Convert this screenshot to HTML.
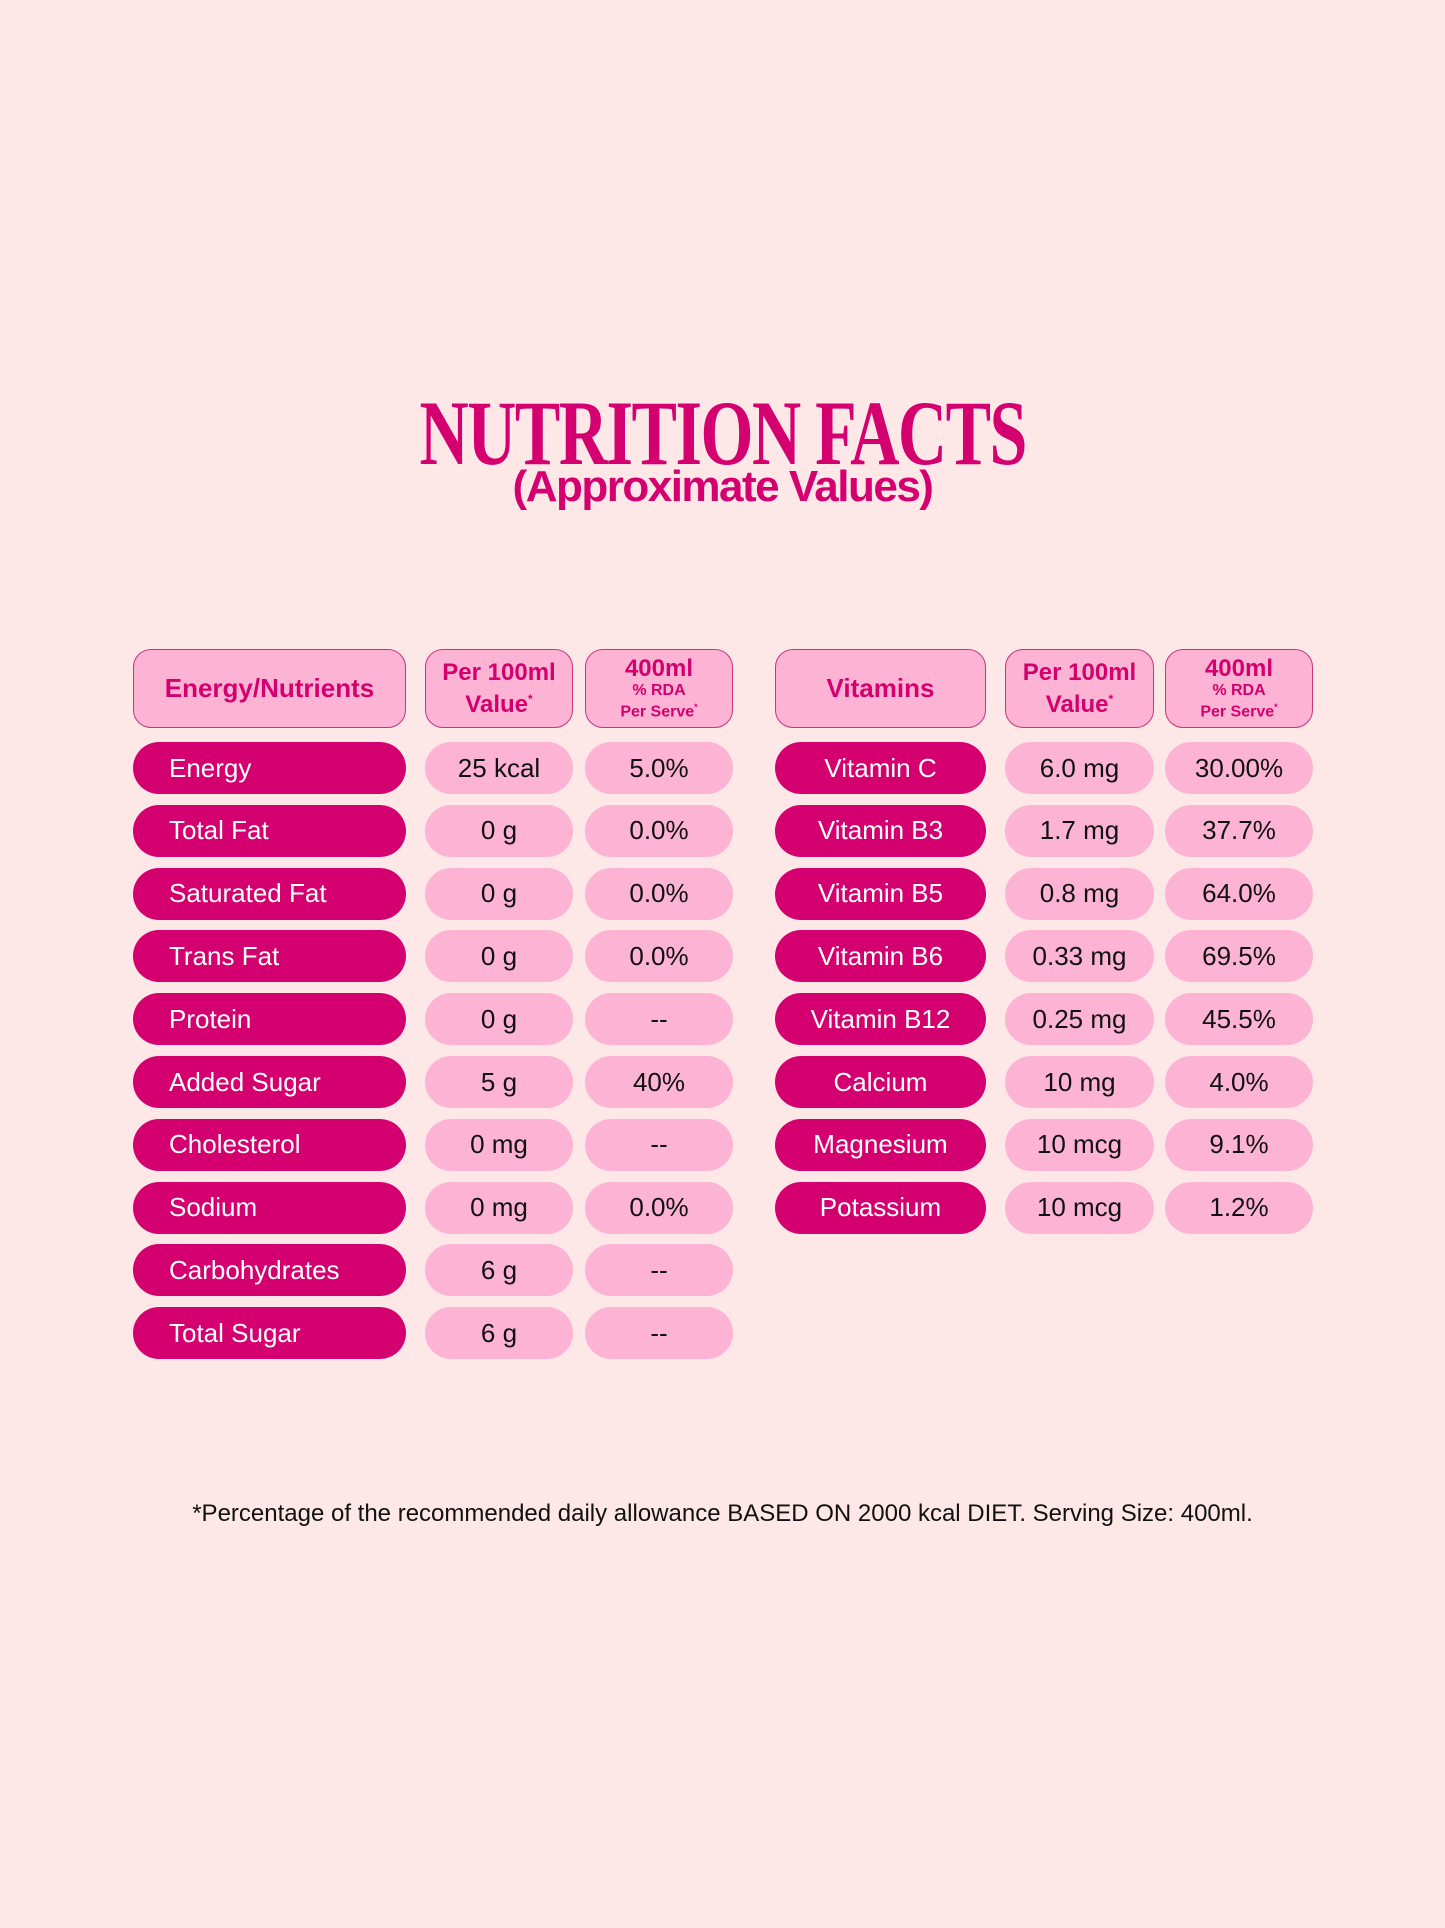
<!DOCTYPE html>
<html><head><meta charset="utf-8">
<style>
body{margin:0;width:1445px;height:1928px;background:#fde7e7;position:relative;overflow:hidden;font-family:"Liberation Sans",sans-serif;}
.t{position:absolute;left:0;width:1445px;text-align:center;color:#d4006f;}
.box{position:absolute;box-sizing:border-box;display:flex;align-items:center;justify-content:center;text-align:center;}
.hd{background:#fdb4d4;border:1.5px solid #c8357a;border-radius:18px;color:#d4006f;font-weight:bold;}
.lab{background:#d4006f;color:#fff;border-radius:26px;font-size:26px;}
.val{background:#fdb4d4;color:#111;border-radius:26px;font-size:26px;}
</style></head><body>
<div class="t" style="top:380px;font-family:'Liberation Serif',serif;font-weight:bold;font-size:92px;"><span style="display:inline-block;transform:scaleX(0.74);letter-spacing:-2px">NUTRITION FACTS</span></div>
<div class="t" style="top:462px;font-weight:bold;font-size:44px;letter-spacing:-1.5px">(Approximate Values)</div>
<div id="tables"></div>
<div class="t" style="top:1500px;color:#111;font-size:24px;">*Percentage of the recommended daily allowance BASED ON 2000 kcal DIET. Serving Size: 400ml.</div>
<script>
const leftNames=["Energy","Total Fat","Saturated Fat","Trans Fat","Protein","Added Sugar","Cholesterol","Sodium","Carbohydrates","Total Sugar"];
const leftPer100=["25 kcal","0 g","0 g","0 g","0 g","5 g","0 mg","0 mg","6 g","6 g"];
const leftRda=["5.0%","0.0%","0.0%","0.0%","--","40%","--","0.0%","--","--"];
const rightNames=["Vitamin C","Vitamin B3","Vitamin B5","Vitamin B6","Vitamin B12","Calcium","Magnesium","Potassium"];
const rightPer100=["6.0 mg","1.7 mg","0.8 mg","0.33 mg","0.25 mg","10 mg","10 mcg","10 mcg"];
const rightRda=["30.00%","37.7%","64.0%","69.5%","45.5%","4.0%","9.1%","1.2%"];
const root=document.getElementById('tables');
function box(cls,x,y,w,h,html,name,align){
  const d=document.createElement('div');
  d.className='box '+cls;
  d.style.left=x+'px';d.style.top=y+'px';d.style.width=w+'px';d.style.height=h+'px';
  if(align){d.style.justifyContent='flex-start';d.style.paddingLeft='36px';}
  d.innerHTML=html;
  
  
  root.appendChild(d);return d;
}
const hdrPer='<div style="font-size:24px;line-height:27px">Per 100ml<br>Value<sup style="font-size:12px">*</sup></div>';
const hdrRda='<div style="line-height:17px"><div style="font-size:24px;line-height:26px">400ml</div><div style="font-size:16px">% RDA</div><div style="font-size:16px">Per Serve<sup style="font-size:9px">*</sup></div></div>';
function table(cols,names,per,rda,title,leftAlign,prefix){
  const top=649,hh=79,r0=742,pitch=62.8,rh=52;
  box('hd',cols[0][0],top,cols[0][1],hh,'<span style="font-size:26px">'+title+'</span>',prefix+'-header-name');
  box('hd',cols[1][0],top,cols[1][1],hh,hdrPer,prefix+'-header-per100');
  box('hd',cols[2][0],top,cols[2][1],hh,hdrRda,prefix+'-header-rda');
  names.forEach((n,i)=>{
    const y=r0+i*pitch;
    box('lab',cols[0][0],y,cols[0][1],rh,n,prefix+'-label-'+i,leftAlign);
    box('val',cols[1][0],y,cols[1][1],rh,per[i],prefix+'-per100-'+i);
    box('val',cols[2][0],y,cols[2][1],rh,rda[i],prefix+'-rda-'+i);
  });
}
table([[133,273],[425,148],[585,148]],leftNames,leftPer100,leftRda,'Energy/Nutrients',true,'nutrient');
table([[775,211],[1005,149],[1165,148]],rightNames,rightPer100,rightRda,'Vitamins',false,'vitamin');
</script>
</body></html>
